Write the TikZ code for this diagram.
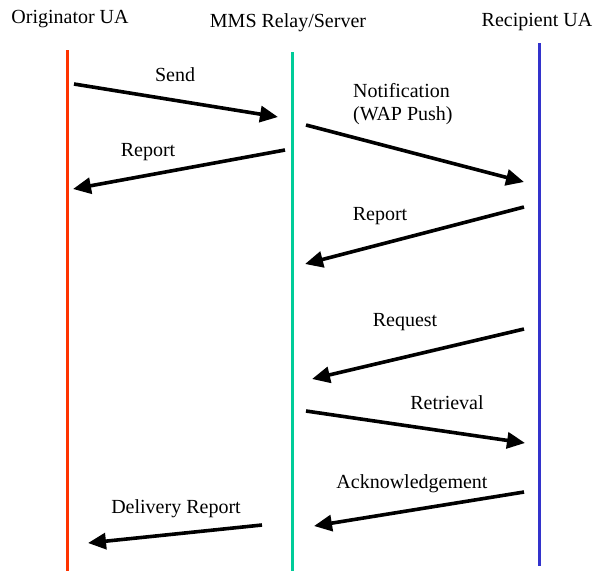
\documentclass[tikz,border=0pt]{standalone}
\usepackage{fontspec}
\setmainfont{Liberation Serif}
\usetikzlibrary{arrows.meta}
\definecolor{origred}{RGB}{255,51,0}
\definecolor{relaygreen}{RGB}{0,204,153}
\definecolor{recipblue}{RGB}{51,51,204}
\tikzset{
  lifeline/.style={line width=3pt},
  msg/.style={line width=3.6pt, -{Triangle[length=18pt,width=16pt]}},
  lbl/.style={font=\fontsize{20}{23}\selectfont, inner sep=0pt},
  head/.style={font=\fontsize{20}{23}\selectfont, inner sep=0pt}
}
\begin{document}
\begin{tikzpicture}[x=1pt,y=-1pt]
\useasboundingbox (0,0) rectangle (593,571);

% participant headers
\node[head] (hO) at (70,19) {Originator UA};
\node[head] (hM) at (288,23) {MMS Relay/Server};
\node[head] (hR) at (537,22) {Recipient UA};

% lifelines
\coordinate (oTop) at (67,50);   \coordinate (oBot) at (67,571);
\coordinate (mTop) at (292,52);  \coordinate (mBot) at (292,571);
\coordinate (rTop) at (539,43);  \coordinate (rBot) at (539,566);
\draw[lifeline, origred] (oTop) -- (oBot);
\draw[lifeline, relaygreen] (mTop) -- (mBot);
\draw[lifeline, recipblue] (rTop) -- (rBot);

% message end points
\coordinate (s1) at (74,84);   \coordinate (e1) at (278,117);
\coordinate (s2) at (285,150); \coordinate (e2) at (73,189);
\coordinate (s3) at (306,125); \coordinate (e3) at (524,182);
\coordinate (s4) at (524,207); \coordinate (e4) at (305,264);
\coordinate (s5) at (524,329); \coordinate (e5) at (312,379);
\coordinate (s6) at (306,411); \coordinate (e6) at (525,443);
\coordinate (s7) at (524,492); \coordinate (e7) at (314,526);
\coordinate (s8) at (262,525); \coordinate (e8) at (88,543);

% messages
\draw[msg] (s1) -- (e1);
\draw[msg] (s2) -- (e2);
\draw[msg] (s3) -- (e3);
\draw[msg] (s4) -- (e4);
\draw[msg] (s5) -- (e5);
\draw[msg] (s6) -- (e6);
\draw[msg] (s7) -- (e7);
\draw[msg] (s8) -- (e8);

% message labels
\node[lbl] (l1) at (175,75) {Send};
\node[lbl] (l2) at (148,152) {Report};
\node[lbl, align=left, anchor=west] (l3) at (353,104) {Notification\\(WAP Push)};
\node[lbl] (l4) at (380,216) {Report};
\node[lbl] (l5) at (405,322) {Request};
\node[lbl] (l6) at (447,403) {Retrieval};
\node[lbl] (l7) at (412,484) {Acknowledgement};
\node[lbl] (l8) at (176,509) {Delivery Report};
\end{tikzpicture}
\end{document}
